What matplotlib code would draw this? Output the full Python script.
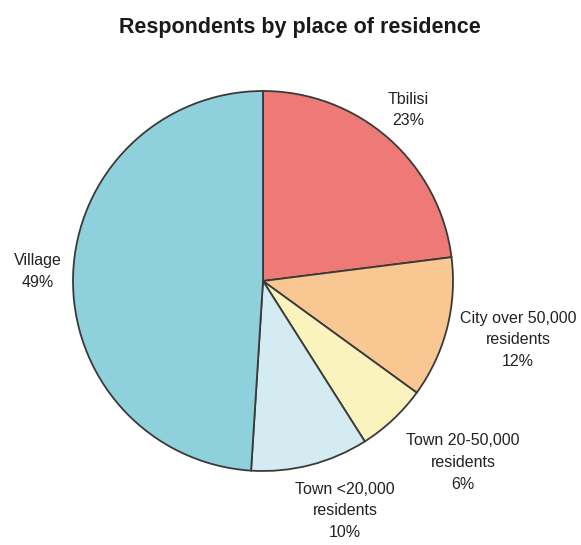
import matplotlib
matplotlib.use("Agg")
import matplotlib.pyplot as plt

categories = ["Tbilisi", "City over 50,000\nresidents", "Town 20-50,000\nresidents",
              "Town <20,000\nresidents", "Village"]
values = [23, 12, 6, 10, 49]
colors = ["#EE7A78", "#F9C791", "#FBF3BE", "#D3EBF1", "#8ED0DB"]
label_pos = [(0.763, 0.9), (1.342, -0.31), (1.053, -0.955), (0.432, -1.21), (-1.184, 0.05)]

W, H = 581, 545
fig = plt.figure(figsize=(W / 100, H / 100), dpi=100)
fig.patch.set_facecolor("white")
cx, cy, r = 263, 281, 190
ax = fig.add_axes([(cx - r) / W, (H - cy - r) / H, 2 * r / W, 2 * r / H])

wedges, _ = ax.pie(values, colors=colors, startangle=90, counterclock=False, radius=1,
                   wedgeprops=dict(edgecolor="#3a3a3a", linewidth=1.3))
ax.set_aspect("auto")
ax.set_xlim(-1, 1)
ax.set_ylim(-1, 1)
ax.axis("off")
for w in wedges:
    w.set_clip_on(False)

for cat, v, (x, y) in zip(categories, values, label_pos):
    t = ax.text(x, y, f"{cat}\n{v}%", ha="center", va="center", fontsize=11.5,
                family="Liberation Sans", color="#222222", linespacing=1.55)
    t.set_clip_on(False)

fig.text(300 / W, 1 - 27 / H, "Respondents by place of residence", ha="center", va="center",
         fontsize=15.5, fontweight="bold", family="Liberation Sans", color="#1a1a1a")

fig.savefig("out.png", dpi=100, facecolor="white")
